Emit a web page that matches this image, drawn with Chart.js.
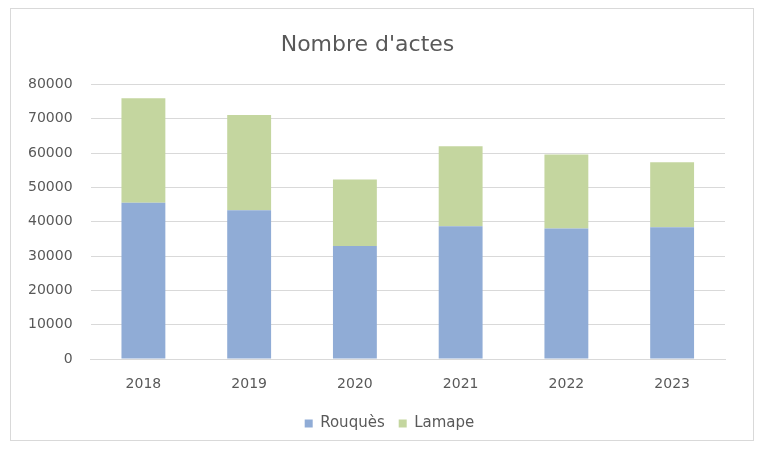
<!DOCTYPE html>
<html>
<head>
<meta charset="utf-8">
<script src="https://cdn.jsdelivr.net/npm/chart.js@4.4.1/dist/chart.umd.min.js"></script>
<style>
  html, body { margin: 0; padding: 0; background: #fff; overflow: hidden; }
  #frame { position: absolute; left: 10px; top: 8px; width: 744px; height: 433px; border: 1px solid #d9d9d9; box-sizing: border-box; }
  canvas { position: absolute; left: 0; top: 0; display: block; }
</style>
</head>
<body>
<div id="frame"></div>
<canvas id="chart" width="758" height="450"></canvas>
<script>
const years = ['2018', '2019', '2020', '2021', '2022', '2023'];
const rouques = [45500, 43300, 32900, 38700, 38000, 38400];
const lamape = [30500, 27800, 19400, 23300, 21600, 18900];
const yTicks = [0, 10000, 20000, 30000, 40000, 50000, 60000, 70000, 80000];

const grey = '#595959';
const font = '"DejaVu Sans", sans-serif';

// nudge the legend to the right, centred under the plot like the original
const legendShift = {
    id: 'legendShift',
    afterLayout(chart) {
        const lg = chart.legend;
        lg.left += 22; lg.right += 22;
    }
};

new Chart(document.getElementById('chart'), {
    type: 'bar',
    data: {
        labels: years,
        datasets: [
            { label: 'Rouquès', data: rouques, backgroundColor: '#90acd6', barPercentage: 0.83, categoryPercentage: 0.5 },
            { label: 'Lamape', data: lamape, backgroundColor: '#c4d69f', barPercentage: 0.83, categoryPercentage: 0.5 }
        ]
    },
    options: {
        responsive: false,
        animation: false,
        layout: { padding: { left: 10, right: 33, top: 8, bottom: 9 } },
        plugins: {
            title: { display: true, text: "Nombre d'actes", color: grey, font: { family: font, size: 22, weight: 'normal' }, padding: { top: 24, bottom: 26 } },
            legend: { position: 'bottom', labels: { color: grey, font: { family: font, size: 15 }, boxWidth: 8, boxHeight: 8, padding: 14 } },
            tooltip: { enabled: false }
        },
        scales: {
            x: {
                stacked: true,
                grid: { display: false },
                border: { color: '#d9d9d9' },
                ticks: { color: grey, font: { family: font, size: 14 }, padding: 9 },
                afterFit: axis => { axis.height = 43; }
            },
            y: {
                stacked: true,
                min: 0, max: 80000,
                afterBuildTicks: axis => { axis.ticks = yTicks.map(v => ({ value: v })); },
                grid: { color: '#d9d9d9', drawTicks: false },
                border: { display: false },
                ticks: { color: grey, font: { family: font, size: 14 }, padding: 18, callback: v => String(v) }
            }
        }
    },
    plugins: [legendShift]
});
</script>
</body>
</html>
